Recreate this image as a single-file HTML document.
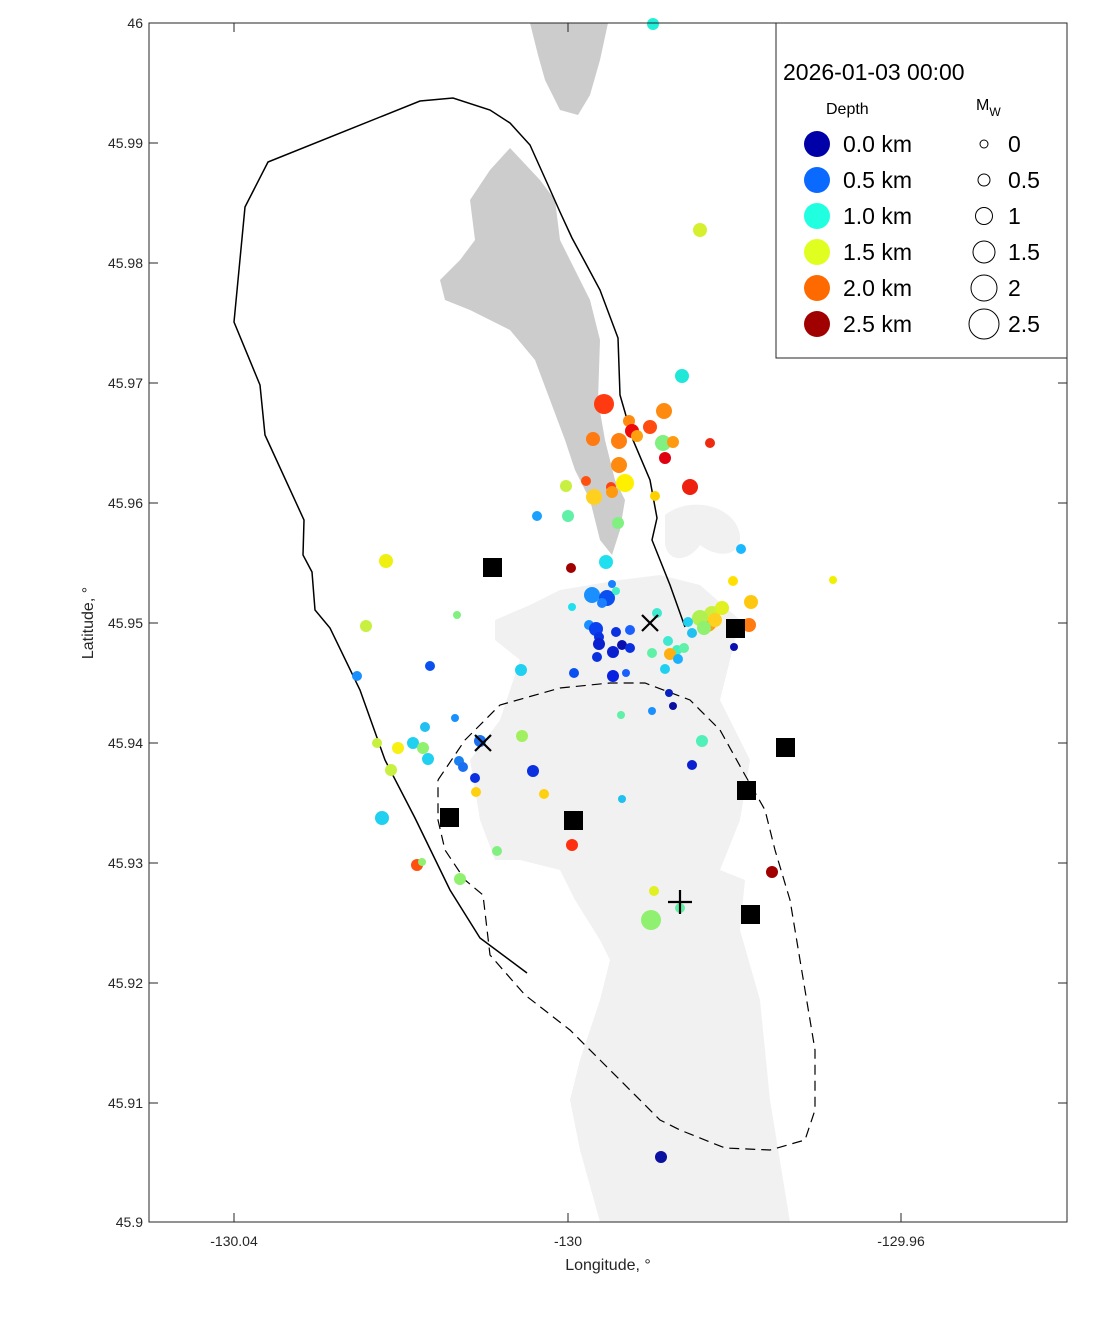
<!DOCTYPE html>
<html><head><meta charset="utf-8"><style>
html,body{margin:0;padding:0;background:#fff;}
svg{display:block;font-family:"Liberation Sans",sans-serif;}
</style></head><body>
<svg width="1111" height="1324" viewBox="0 0 1111 1324" xmlns="http://www.w3.org/2000/svg">
<rect width="1111" height="1324" fill="#fff"/>
<!-- land -->
<polygon fill="#f1f1f1" points="495,620 530,605 560,590 620,580 660,575 700,585 740,620 720,700 750,760 740,820 720,870 745,880 740,930 760,1000 770,1100 790,1222 600,1222 580,1150 570,1100 580,1060 600,1000 610,960 600,940 575,900 560,870 520,860 495,860 480,820 470,760 500,720 520,660 495,640"/>
<path fill="#f1f1f1" d="M665,515 C690,495 735,505 740,535 C742,555 720,560 700,545 C690,560 670,565 665,545 Z"/>
<polygon fill="#cccccc" points="530,23 608,23 600,60 590,95 578,115 560,110 545,80 538,55"/>
<polygon fill="#cccccc" points="510,148 540,180 555,200 560,240 575,270 590,300 600,340 598,400 605,440 615,480 625,500 620,530 612,555 600,540 590,500 575,470 565,440 550,400 535,360 510,330 490,320 470,310 445,300 440,280 460,260 475,240 470,200 490,170"/>
<!-- outlines -->
<polyline fill="none" stroke="#000" stroke-width="1.5" points="527,973 480,938 450,890 415,818 385,760 360,690 330,628 315,610 312,572 303,555 304,520 265,435 260,385 234,322 245,207 268,162 420,101 453,98 490,110 510,123 530,145 548,185 560,212 572,238 585,262 600,290 618,338 620,395 633,440 650,480 657,518 652,540 670,585 685,627"/>
<polyline fill="none" stroke="#000" stroke-width="1.2" stroke-dasharray="10,6" points="438,780 465,740 500,705 560,688 610,683 645,683 690,700 720,730 745,775 765,810 775,850 790,900 800,960 815,1050 815,1110 805,1140 770,1150 725,1148 680,1130 660,1120 600,1060 570,1030 525,995 490,955 483,895 465,880 445,850 438,820 438,780"/>
<!-- points -->
<g>
<circle cx="653" cy="24" r="6" fill="#20f0d8"/>
<circle cx="700" cy="230" r="7" fill="#d6f030"/>
<circle cx="682" cy="376" r="7" fill="#20e8d8"/>
<circle cx="604" cy="404" r="10" fill="#ff3a10"/>
<circle cx="629" cy="421" r="6" fill="#ff8a10"/>
<circle cx="664" cy="411" r="8" fill="#ff8a10"/>
<circle cx="650" cy="427" r="7" fill="#ff4a10"/>
<circle cx="632" cy="431" r="7" fill="#ee0a0a"/>
<circle cx="637" cy="436" r="6" fill="#ffa010"/>
<circle cx="619" cy="441" r="8" fill="#ff8010"/>
<circle cx="593" cy="439" r="7" fill="#ff7a10"/>
<circle cx="663" cy="443" r="8" fill="#80f080"/>
<circle cx="673" cy="442" r="6" fill="#ff9a10"/>
<circle cx="710" cy="443" r="5" fill="#ee2a10"/>
<circle cx="665" cy="458" r="6" fill="#e00010"/>
<circle cx="619" cy="465" r="8" fill="#ff8a10"/>
<circle cx="586" cy="481" r="5" fill="#ff5010"/>
<circle cx="566" cy="486" r="6" fill="#c8f040"/>
<circle cx="625" cy="483" r="9" fill="#fff000"/>
<circle cx="611" cy="487" r="5" fill="#ff4010"/>
<circle cx="612" cy="492" r="6" fill="#ff9a10"/>
<circle cx="594" cy="497" r="8" fill="#ffd020"/>
<circle cx="655" cy="496" r="5" fill="#ffd000"/>
<circle cx="690" cy="487" r="8" fill="#ee2010"/>
<circle cx="537" cy="516" r="5" fill="#1aa0ff"/>
<circle cx="568" cy="516" r="6" fill="#60f0a8"/>
<circle cx="618" cy="523" r="6" fill="#80f080"/>
<circle cx="741" cy="549" r="5" fill="#1ab8ff"/>
<circle cx="386" cy="561" r="7" fill="#f0f010"/>
<circle cx="606" cy="562" r="7" fill="#20e0f0"/>
<circle cx="571" cy="568" r="5" fill="#a00000"/>
<circle cx="733" cy="581" r="5" fill="#ffe000"/>
<circle cx="833" cy="580" r="4" fill="#f0f000"/>
<circle cx="612" cy="584" r="4" fill="#1a80ff"/>
<circle cx="592" cy="595" r="8" fill="#1a90ff"/>
<circle cx="607" cy="598" r="8" fill="#0a50f0"/>
<circle cx="616" cy="591" r="4" fill="#40f0c8"/>
<circle cx="602" cy="603" r="5" fill="#1a80ff"/>
<circle cx="751" cy="602" r="7" fill="#ffc810"/>
<circle cx="572" cy="607" r="4" fill="#20e0f0"/>
<circle cx="457" cy="615" r="4" fill="#80f080"/>
<circle cx="366" cy="626" r="6" fill="#c8f040"/>
<circle cx="657" cy="613" r="5" fill="#40e8d0"/>
<circle cx="707" cy="622" r="10" fill="#ffa010"/>
<circle cx="712" cy="614" r="8" fill="#c8f040"/>
<circle cx="722" cy="608" r="7" fill="#e0f020"/>
<circle cx="700" cy="618" r="8" fill="#b0f050"/>
<circle cx="715" cy="620" r="7" fill="#ffd020"/>
<circle cx="704" cy="628" r="7" fill="#90f070"/>
<circle cx="749" cy="625" r="7" fill="#ff7a10"/>
<circle cx="688" cy="622" r="5" fill="#20d0f0"/>
<circle cx="692" cy="633" r="5" fill="#20c0f0"/>
<circle cx="589" cy="625" r="5" fill="#1a90ff"/>
<circle cx="596" cy="629" r="7" fill="#0a40f0"/>
<circle cx="599" cy="637" r="5" fill="#0a30e0"/>
<circle cx="599" cy="644" r="6" fill="#0a20d0"/>
<circle cx="616" cy="632" r="5" fill="#0a30e0"/>
<circle cx="630" cy="630" r="5" fill="#1a60ff"/>
<circle cx="622" cy="645" r="5" fill="#0a10b0"/>
<circle cx="630" cy="648" r="5" fill="#0a30e0"/>
<circle cx="613" cy="652" r="6" fill="#0a20d0"/>
<circle cx="597" cy="657" r="5" fill="#0a30e0"/>
<circle cx="430" cy="666" r="5" fill="#0a50f0"/>
<circle cx="357" cy="676" r="5" fill="#1a90ff"/>
<circle cx="521" cy="670" r="6" fill="#20d0f0"/>
<circle cx="574" cy="673" r="5" fill="#0a50f0"/>
<circle cx="613" cy="676" r="6" fill="#0a20e0"/>
<circle cx="626" cy="673" r="4" fill="#1a60ff"/>
<circle cx="668" cy="641" r="5" fill="#40e8d0"/>
<circle cx="652" cy="653" r="5" fill="#60f0a8"/>
<circle cx="677" cy="650" r="5" fill="#40f0c0"/>
<circle cx="684" cy="648" r="5" fill="#60f0a8"/>
<circle cx="670" cy="654" r="6" fill="#ffb010"/>
<circle cx="678" cy="659" r="5" fill="#1ab0ff"/>
<circle cx="665" cy="669" r="5" fill="#20d0f0"/>
<circle cx="734" cy="647" r="4" fill="#0a10b0"/>
<circle cx="669" cy="693" r="4" fill="#0a20c0"/>
<circle cx="673" cy="706" r="4" fill="#0a10a0"/>
<circle cx="652" cy="711" r="4" fill="#1a90ff"/>
<circle cx="621" cy="715" r="4" fill="#60f0a8"/>
<circle cx="455" cy="718" r="4" fill="#1a90ff"/>
<circle cx="425" cy="727" r="5" fill="#20c0f0"/>
<circle cx="522" cy="736" r="6" fill="#a0f060"/>
<circle cx="377" cy="743" r="5" fill="#c8f040"/>
<circle cx="398" cy="748" r="6" fill="#f8f010"/>
<circle cx="413" cy="743" r="6" fill="#20d0f0"/>
<circle cx="423" cy="748" r="6" fill="#90f070"/>
<circle cx="428" cy="759" r="6" fill="#20d0f0"/>
<circle cx="480" cy="741" r="6" fill="#1a70f0"/>
<circle cx="459" cy="761" r="5" fill="#1a80f0"/>
<circle cx="463" cy="767" r="5" fill="#1a70f0"/>
<circle cx="475" cy="778" r="5" fill="#0a30e0"/>
<circle cx="533" cy="771" r="6" fill="#0a30e0"/>
<circle cx="702" cy="741" r="6" fill="#50f0b8"/>
<circle cx="692" cy="765" r="5" fill="#0a20d0"/>
<circle cx="391" cy="770" r="6" fill="#c8f040"/>
<circle cx="476" cy="792" r="5" fill="#ffd010"/>
<circle cx="544" cy="794" r="5" fill="#ffd010"/>
<circle cx="622" cy="799" r="4" fill="#20c0f0"/>
<circle cx="382" cy="818" r="7" fill="#20d0f0"/>
<circle cx="572" cy="845" r="6" fill="#ff3010"/>
<circle cx="497" cy="851" r="5" fill="#80f080"/>
<circle cx="417" cy="865" r="6" fill="#ff5010"/>
<circle cx="422" cy="862" r="4" fill="#90f070"/>
<circle cx="772" cy="872" r="6" fill="#a00000"/>
<circle cx="460" cy="879" r="6" fill="#90f070"/>
<circle cx="654" cy="891" r="5" fill="#e0f020"/>
<circle cx="680" cy="908" r="5" fill="#60f0a8"/>
<circle cx="651" cy="920" r="10" fill="#90f070"/>
<circle cx="661" cy="1157" r="6" fill="#0a10a0"/>
</g>
<!-- squares -->
<g fill="#000">
<rect x="483" y="558" width="19" height="19"/>
<rect x="726" y="619" width="19" height="19"/>
<rect x="776" y="738" width="19" height="19"/>
<rect x="737" y="781" width="19" height="19"/>
<rect x="440" y="808" width="19" height="19"/>
<rect x="564" y="811" width="19" height="19"/>
<rect x="741" y="905" width="19" height="19"/>
</g>
<g stroke="#000" stroke-width="2.2" fill="none">
<path d="M642,615 L658,631 M658,615 L642,631"/>
<path d="M475,735 L491,751 M491,735 L475,751"/>
<path d="M668,902 L692,902 M680,890 L680,914"/>
</g>
<!-- axes -->
<rect x="149" y="23" width="918" height="1199" fill="none" stroke="#262626" stroke-width="1"/>
<g stroke="#262626" stroke-width="1">
<path d="M234,1222v-9M568,1222v-9M901,1222v-9M234,23v9M568,23v9M901,23v9"/>
<path d="M149,23h9M149,143h9M149,263h9M149,383h9M149,503h9M149,623h9M149,743h9M149,863h9M149,983h9M149,1103h9M149,1222h9"/>
<path d="M1067,143h-9M1067,263h-9M1067,383h-9M1067,503h-9M1067,623h-9M1067,743h-9M1067,863h-9M1067,983h-9M1067,1103h-9M1067,1222h-9"/>
</g>
<g font-size="14" fill="#262626" text-anchor="end">
<text x="143" y="28">46</text><text x="143" y="148">45.99</text><text x="143" y="268">45.98</text><text x="143" y="388">45.97</text><text x="143" y="508">45.96</text><text x="143" y="628">45.95</text><text x="143" y="748">45.94</text><text x="143" y="868">45.93</text><text x="143" y="988">45.92</text><text x="143" y="1108">45.91</text><text x="143" y="1227">45.9</text>
</g>
<g font-size="14" fill="#262626" text-anchor="middle">
<text x="234" y="1246">-130.04</text><text x="568" y="1246">-130</text><text x="901" y="1246">-129.96</text>
<text x="608" y="1270" font-size="16">Longitude, °</text>
</g>
<text transform="translate(93,623) rotate(-90)" font-size="16" fill="#262626" text-anchor="middle">Latitude, °</text>
<!-- legend -->
<rect x="776" y="23" width="291" height="335" fill="#fff" stroke="#262626" stroke-width="1"/>
<text x="783" y="80" font-size="23" fill="#000">2026-01-03 00:00</text>
<text x="826" y="114" font-size="16" fill="#000">Depth</text>
<text x="976" y="110" font-size="16" fill="#000">M<tspan font-size="12" dy="6">W</tspan></text>
<g font-size="23" fill="#000">
<circle cx="817" cy="144" r="13" fill="#0000a8"/><text x="843" y="152">0.0 km</text>
<circle cx="817" cy="180" r="13" fill="#0a6aff"/><text x="843" y="188">0.5 km</text>
<circle cx="817" cy="216" r="13" fill="#20ffe0"/><text x="843" y="224">1.0 km</text>
<circle cx="817" cy="252" r="13" fill="#e0ff20"/><text x="843" y="260">1.5 km</text>
<circle cx="817" cy="288" r="13" fill="#ff6a00"/><text x="843" y="296">2.0 km</text>
<circle cx="817" cy="324" r="13" fill="#a00000"/><text x="843" y="332">2.5 km</text>
</g>
<g fill="none" stroke="#000" stroke-width="1">
<circle cx="984" cy="144" r="4"/><circle cx="984" cy="180" r="6"/><circle cx="984" cy="216" r="8.5"/><circle cx="984" cy="252" r="11"/><circle cx="984" cy="288" r="13"/><circle cx="984" cy="324" r="15"/>
</g>
<g font-size="23" fill="#000">
<text x="1008" y="152">0</text><text x="1008" y="188">0.5</text><text x="1008" y="224">1</text><text x="1008" y="260">1.5</text><text x="1008" y="296">2</text><text x="1008" y="332">2.5</text>
</g>
</svg>
</body></html>
